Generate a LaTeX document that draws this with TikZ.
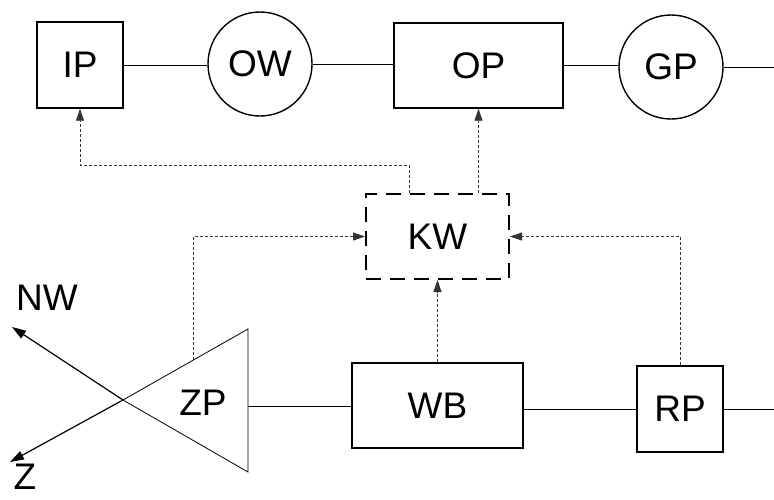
\documentclass[tikz,border=0pt]{standalone}
\usepackage{fontspec}
\setmainfont{Liberation Sans}
\usetikzlibrary{arrows.meta}
\begin{document}
\begin{tikzpicture}[x=1pt,y=-1pt,
  font=\fontsize{37}{40}\selectfont,
  boxnode/.style={draw,line width=1.4pt,rectangle,inner sep=0pt},
  circnode/.style={draw,line width=1.4pt,circle,inner sep=0pt,minimum size=104pt},
  wire/.style={line width=1pt},
  ctl/.style={line width=0.8pt,dash pattern=on 3pt off 2pt,draw=black!80,-{Triangle[length=12pt,width=8pt]}},
  outarrow/.style={line width=1.2pt,-{Triangle[length=14pt,width=9pt]}},
  lbl/.style={inner sep=0pt}
]
\useasboundingbox (0,0) rectangle (774,499);
% top row
\node[boxnode,minimum width=86pt,minimum height=86pt] (IP) at (80,65) {IP};
\node[circnode] (OW) at (260,64) {OW};
\node[boxnode,minimum width=169pt,minimum height=85pt] (OP) at (478.5,65.5) {OP};
\node[circnode] (GP) at (671,67) {GP};
\coordinate (topend) at (774,67);
% control
\node[draw,line width=2pt,dash pattern=on 15pt off 9pt,minimum width=143pt,minimum height=85pt,inner sep=0pt] (KW) at (437.5,236.5) {KW};
% bottom row
\coordinate (apex) at (123,400);
\coordinate (tritop) at (248,329);
\coordinate (tribot) at (248,472);
\coordinate (triout) at (248,406);
\coordinate (zpt) at (193,360);
\draw[line width=0.8pt] (apex) -- (tritop) -- (tribot) -- cycle;
\node[lbl] (ZP) at (203,403) {ZP};
\node[boxnode,minimum width=171pt,minimum height=85pt] (WB) at (437.5,405.5) {WB};
\node[boxnode,minimum width=86pt,minimum height=86pt] (RP) at (680,409) {RP};
\coordinate (botend) at (774,409);
% outputs
\coordinate (nwend) at (12,327);
\coordinate (zend) at (10,462);
\node[lbl] (NW) at (47,298) {NW};
\node[lbl] (Z) at (25,477) {Z};
\draw[outarrow] (apex) -- (nwend);
\draw[outarrow] (apex) -- (zend);
% wires
\draw[wire] (IP.east) -- (IP.east -| OW.west);
\draw[wire] (OW.east) -- (OW.east -| OP.west);
\draw[wire] (OP.east) -- (OP.east -| GP.west);
\draw[wire] (GP.east) -- (topend);
\draw[wire] (triout) -- (WB.west |- triout);
\draw[wire] (WB.east |- RP.west) -- (RP.west);
\draw[wire] (RP.east) -- (botend);
% control connectors
\draw[ctl] ([xshift=-28.5pt]KW.north) -- ++(0,-28) -| (IP.south);
\draw[ctl] (KW.north -| OP.south) -- (OP.south);
\draw[ctl] (zpt) |- (KW.west);
\draw[ctl] (RP.north) |- (KW.east);
\draw[ctl] (WB.north) -- (KW.south);
\end{tikzpicture}
\end{document}
